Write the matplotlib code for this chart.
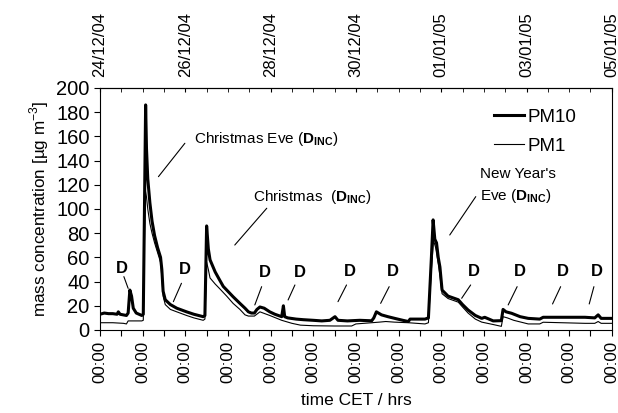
import matplotlib
matplotlib.use('Agg')
import matplotlib.pyplot as plt

plt.rcParams['font.family'] = ['Liberation Sans', 'DejaVu Sans']
plt.rcParams['mathtext.fontset'] = 'custom'
plt.rcParams['mathtext.rm'] = 'Liberation Sans'
plt.rcParams['mathtext.bf'] = 'Liberation Sans:bold'

# time in days since 24/12/04 00:00 CET
pm10_t = [0.00, 0.10, 0.20, 0.30, 0.40, 0.43, 0.47, 0.62, 0.66, 0.70, 0.74, 0.78, 0.85, 0.98,
          1.015, 1.07, 1.09, 1.12, 1.17, 1.22, 1.28, 1.35, 1.42, 1.45, 1.48, 1.53, 1.65, 1.80,
          2.03, 2.20, 2.42, 2.46, 2.50, 2.54, 2.58, 2.70, 2.81, 2.89, 3.12, 3.28, 3.40, 3.48,
          3.55, 3.62, 3.68, 3.75, 3.85, 3.98, 4.10, 4.26, 4.30, 4.33, 4.40, 4.60, 4.77, 5.00,
          5.20, 5.39, 5.51, 5.58, 5.80, 6.09, 6.37, 6.42, 6.48, 6.60, 6.75, 6.91, 7.10, 7.23,
          7.27, 7.62, 7.70, 7.77, 7.81, 7.85, 7.89, 7.93, 7.97, 8.02, 8.16, 8.40, 8.50, 8.63,
          8.80, 8.95, 9.02, 9.22, 9.41, 9.45, 9.52, 9.65, 9.85, 10.04, 10.31, 10.39, 10.80,
          11.37, 11.60, 11.68, 11.75, 12.00]
pm10 = [13, 14, 13.5, 13.5, 13, 15, 13, 12, 14, 33, 28, 18, 14, 12,
        13, 186, 150, 125, 105, 90, 78, 68, 60, 50, 32, 25, 21, 18,
        15, 13, 11, 12, 86, 67, 58, 48, 41, 36, 27.5, 22, 18, 15,
        14, 14, 17, 19, 18, 15, 13, 11, 20, 11, 10, 9, 8.5, 8,
        7.5, 8, 11, 8, 7.5, 8, 7.6, 10, 15, 12.5, 11, 9.6, 8, 7,
        9, 9, 10, 60, 91, 75, 72, 60, 52, 33, 28, 25, 21, 16.5,
        12, 9.6, 10.5, 7.5, 7.7, 17, 15, 13.8, 11, 9.6, 9, 10.5, 10.5,
        10.5, 10, 12.5, 9.6, 9.6]

pm1_t = [0.00, 0.30, 0.55, 0.62, 0.66, 0.98, 1.015, 1.06, 1.09, 1.12, 1.17, 1.22, 1.28, 1.35,
         1.42, 1.45, 1.48, 1.53, 1.65, 1.80, 2.03, 2.20, 2.42, 2.46, 2.50, 2.54, 2.58, 2.70,
         2.81, 2.97, 3.12, 3.28, 3.40, 3.48, 3.62, 3.75, 3.98, 4.26, 4.50, 4.70, 5.00, 5.50,
         5.90, 6.00, 6.37, 6.55, 6.70, 6.90, 7.23, 7.62, 7.70, 7.77, 7.82, 7.87, 7.93, 7.97,
         8.02, 8.16, 8.40, 8.50, 8.63, 8.80, 8.95, 9.22, 9.41, 9.45, 9.55, 9.70, 10.04, 10.31,
         10.39, 11.37, 11.60, 11.68, 11.75, 12.00]
pm1 = [6, 6, 5.5, 5, 7.5, 7.5, 8, 116, 110, 100, 88, 80, 72, 64,
       56, 44, 28, 21, 17, 15, 12, 10, 8, 9, 56, 50, 43, 38,
       34, 28, 22, 17, 12.5, 11.5, 11.5, 15, 12, 8, 5.5, 4, 3.5, 3.3,
       3.3, 5, 6, 6.5, 7, 6.5, 6, 5, 6, 50, 74, 68, 55, 45,
       30, 26, 23, 19, 14, 9, 6.5, 4.5, 3, 11, 10, 8, 5, 5,
       6.4, 5.5, 5.5, 7, 5.5, 5.5]

date_ticks = [0, 2, 4, 6, 8, 10, 12]
date_labels = ['24/12/04', '26/12/04', '28/12/04', '30/12/04', '01/01/05', '03/01/05', '05/01/05']

# D labels: text position and leader line (from, to)
d_marks = [
    ((0.52, 50.8), (0.56, 44.1), (0.66, 34.4)),
    ((2.00, 49.6), (1.91, 38.6), (1.72, 23.4)),
    ((3.87, 47.7), (3.79, 35.8), (3.63, 20.7)),
    ((4.69, 47.7), (4.57, 37.2), (4.41, 24.8)),
    ((5.86, 48.2), (5.78, 37.2), (5.58, 23.4)),
    ((6.87, 48.2), (6.78, 35.8), (6.58, 22.0)),
    ((8.77, 48.2), (8.69, 37.2), (8.48, 26.2)),
    ((9.84, 48.2), (9.78, 35.8), (9.57, 20.7)),
    ((10.86, 48.2), (10.80, 35.8), (10.61, 21.5)),
    ((11.64, 48.2), (11.58, 35.8), (11.47, 21.5)),
]

fig = plt.figure(figsize=(6.18, 4.13), dpi=100)
ax = fig.add_axes([0.1618, 0.201, 0.8282, 0.586])

ax.plot(pm10_t, pm10, color='black', lw=2.2, label='PM10')
ax.plot(pm1_t, pm1, color='black', lw=0.8, label='PM1')

ax.set_xlim(0, 12)
ax.set_ylim(0, 200)
ax.set_yticks(range(0, 201, 20))
ax.set_xticks(range(0, 13))
ax.set_xticklabels(['00:00'] * 13, rotation=90)
ax.set_xticks([i + 0.5 for i in range(12)], minor=True)
ax.tick_params(axis='y', labelsize=14.5, length=4, width=0.8)
ax.tick_params(axis='x', which='both', labelsize=12.2, length=4, width=0.8, pad=4)

ax.set_xlabel('time CET / hrs', fontsize=12.5, labelpad=7)
ax.set_ylabel(r'mass concentration [µg m$^{-3}$]', fontsize=12.3, labelpad=4)

top = ax.secondary_xaxis('top')
top.set_xticks(date_ticks)
top.set_xticklabels(date_labels, rotation=90)
top.set_xticks([i * 0.5 for i in range(25)], minor=True)
top.tick_params(axis='x', which='both', direction='in', length=3, labelsize=12, pad=8)

txt = dict(fontsize=11, color='black')
line = dict(arrowstyle='-', color='black', lw=0.8, shrinkA=0, shrinkB=0)

ax.text(3.89, 157.5, r'Christmas Eve ($\mathbf{D}_{\mathbf{INC}}$)', ha='center', va='center', **txt)
ax.annotate('', xy=(1.37, 126.7), xytext=(1.99, 154.3), arrowprops=line)
ax.text(4.97, 110, r'Christmas  ($\mathbf{D}_{\mathbf{INC}}$)', ha='center', va='center', **txt)
ax.annotate('', xy=(3.16, 70.2), xytext=(3.91, 100.6), arrowprops=line)
ax.text(8.91, 119, "New Year's\nEve ($\\mathbf{D}_{\\mathbf{INC}}$)", ha='left', va='center',
        linespacing=1.45, **txt)
ax.annotate('', xy=(8.2, 78.5), xytext=(8.81, 110.2), arrowprops=line)

for (tx, ty), (x0, y0), (x1, y1) in d_marks:
    ax.text(tx, ty, 'D', ha='center', va='center', fontsize=12, fontweight='bold')
    ax.annotate('', xy=(x1, y1), xytext=(x0, y0), arrowprops=line)

leg = ax.legend(loc='upper right', bbox_to_anchor=(0.945, 0.945), frameon=False, fontsize=13.5,
                handlelength=1.6, handletextpad=0.15, borderaxespad=0.0, labelspacing=0.62)

plt.savefig('out.png', dpi=100)
